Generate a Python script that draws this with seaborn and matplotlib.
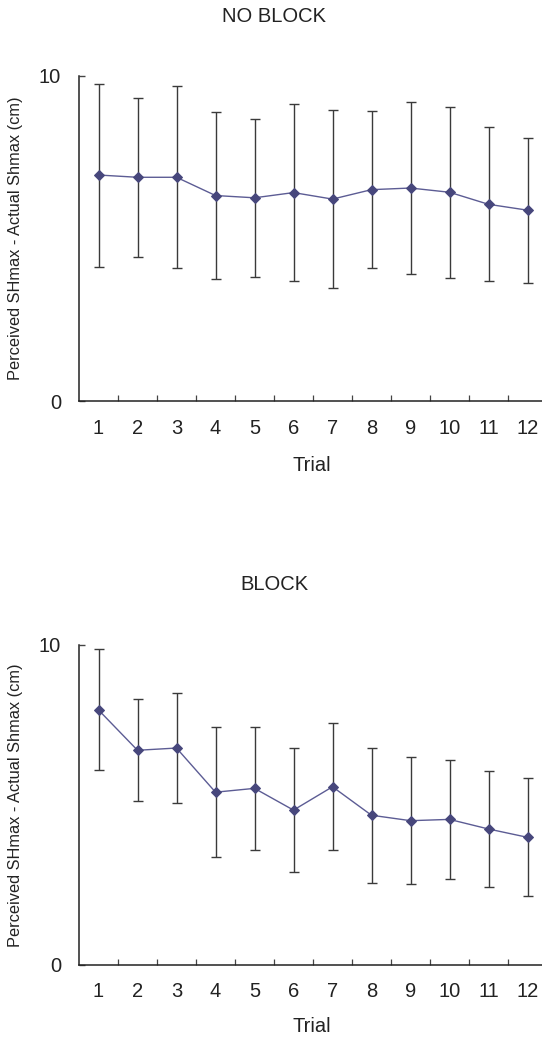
import numpy as np
import pandas as pd
import matplotlib
matplotlib.use("Agg")
import matplotlib.pyplot as plt
import seaborn as sns
from matplotlib.ticker import FixedLocator

sns.set_theme(style="white")
plt.rcParams['font.family'] = ['Liberation Sans', 'DejaVu Sans']

trials = [1, 2, 3, 4, 5, 6, 7, 8, 9, 10, 11, 12]
no_block_mean = [6.95, 6.88, 6.88, 6.32, 6.25, 6.41, 6.21, 6.50, 6.55, 6.42, 6.05, 5.87]
no_block_err = [2.81, 2.45, 2.79, 2.57, 2.43, 2.71, 2.73, 2.41, 2.65, 2.63, 2.36, 2.23]
block_mean = [7.97, 6.71, 6.78, 5.40, 5.52, 4.84, 5.57, 4.68, 4.51, 4.55, 4.25, 3.99]
block_err = [1.89, 1.59, 1.72, 2.03, 1.93, 1.94, 1.98, 2.11, 1.99, 1.85, 1.81, 1.84]
titles = ["NO BLOCK", "BLOCK"]
y_label = "Perceived SHmax - Actual Shmax (cm)"
x_label = "Trial"

W, H = 542, 1041
fig = plt.figure(figsize=(W / 100, H / 100), dpi=100)

panels = [
    (no_block_mean, no_block_err, 75.7, 401.3, 16, 465),
    (block_mean, block_err, 645, 965, 584, 1026),
]

line_col = "#5c5c94"
mark_col = "#47477c"
err_col = "#3a3a3a"

for (means, errs, ytop, ybot, title_y, xlab_y), title in zip(panels, titles):
    left = 79
    ax = fig.add_axes([left / W, 1 - ybot / H, 1 - left / W, (ybot - ytop) / H])
    df = pd.DataFrame({"Trial": trials, "Value": means, "Err": errs})
    ax.errorbar(df["Trial"], df["Value"], yerr=df["Err"], fmt="none",
                ecolor=err_col, elinewidth=1.0, capsize=3.8, capthick=1.0, zorder=2)
    sns.lineplot(data=df, x="Trial", y="Value", ax=ax, color=line_col, linewidth=1.0,
                 marker="D", markersize=5, markerfacecolor=mark_col,
                 markeredgecolor=mark_col, zorder=3)
    ax.set_xlim(0.5, 0.5 + (W - left) / 39.0)
    ax.set_ylim(0, 10)
    ax.set_xlabel("")
    ax.set_ylabel("")
    for s in ["top", "right"]:
        ax.spines[s].set_visible(False)
    for s in ["left", "bottom"]:
        ax.spines[s].set_color("#222222")
        ax.spines[s].set_linewidth(1.1)
    ax.set_xticks(trials)
    ax.set_xticklabels([str(t) for t in trials])
    ax.xaxis.set_minor_locator(FixedLocator([t + 0.5 for t in trials]))
    ax.tick_params(axis="x", which="major", length=0, pad=12.5, labelsize=14.5,
                   labelcolor="#222222")
    ax.tick_params(axis="x", which="minor", direction="in", length=4.5, width=0.9,
                   color="#444444", bottom=True)
    ax.set_yticks([0, 10])
    ax.set_yticklabels(["0", "10"])
    ax.tick_params(axis="y", which="major", direction="in", length=4, width=1.0,
                   color="#444444", pad=13, labelsize=14.5, labelcolor="#222222", left=True)
    ax.grid(False)
    ax.set_facecolor("white")

    fig.text(274 / W, 1 - title_y / H, title, ha="center", va="center",
             fontsize=14.5, color="#222222")
    fig.text(312 / W, 1 - xlab_y / H, x_label, ha="center", va="center",
             fontsize=14.5, color="#222222")
    fig.text(15.5 / W, 1 - ((ytop + ybot) / 2) / H, y_label, ha="center", va="center",
             rotation=90, fontsize=11.8, color="#222222")

fig.savefig("out.png", dpi=100, facecolor="white")
